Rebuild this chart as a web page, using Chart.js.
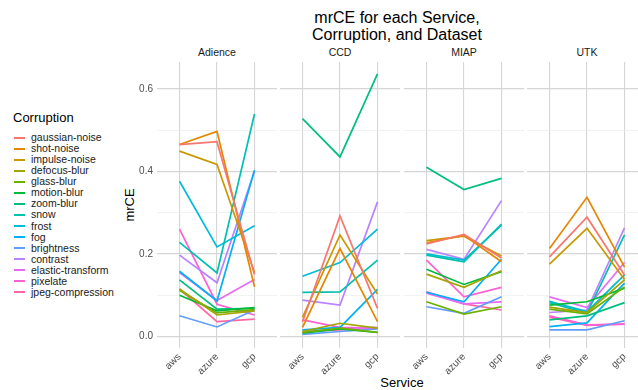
<!DOCTYPE html>
<html>
<head>
<meta charset="utf-8">
<script src="https://cdn.jsdelivr.net/npm/chart.js@4/dist/chart.umd.min.js"></script>
<style>
  html, body { margin: 0; padding: 0; background: #fff; }
  body { width: 638px; height: 390px; overflow: hidden; position: relative;
         font-family: "Liberation Sans", Arial, sans-serif; }
  canvas.panel { position: absolute; top: 0; }
  .txt { position: absolute; white-space: nowrap; }
  #title { left: 247px; width: 300px; top: 10px; text-align: center; font-size: 16px; line-height: 16.5px; color: #000; }
  .strip { top: 46px; width: 120px; text-align: center; font-size: 10.5px; color: #1a1a1a; }
  #xtitle { left: 352px; width: 100px; top: 375px; text-align: center; font-size: 13px; color: #000; }
  #ytitle { left: 129px; top: 205px; font-size: 13px; color: #000; transform: translate(-50%, -50%) rotate(-90deg); }
  #legend { position: absolute; left: 13px; top: 110px; width: 125px; }
  #legend .head { font-size: 13px; line-height: 15px; color: #000; margin-bottom: 7px; white-space: nowrap; }
  #legend .item { height: 11.07px; position: relative; }
  #legend .key { position: absolute; left: 1px; top: 4.5px; width: 11px; height: 2px; }
  #legend .lab { position: absolute; left: 18px; top: -1px; font-size: 10.5px; line-height: 12px; color: #1a1a1a; white-space: nowrap; }
</style>
</head>
<body>
<div id="title" class="txt">mrCE for each Service,<br>Corruption, and Dataset</div>
<div id="xtitle" class="txt">Service</div>
<div id="ytitle" class="txt">mrCE</div>
<div id="legend"></div>

<script>
// Categories and series
const services = ['aws', 'azure', 'gcp'];
const datasets = ['Adience', 'CCD', 'MIAP', 'UTK'];
const corruptions = [
  'gaussian-noise', 'shot-noise', 'impulse-noise', 'defocus-blur', 'glass-blur',
  'motion-blur', 'zoom-blur', 'snow', 'frost', 'fog', 'brightness', 'contrast',
  'elastic-transform', 'pixelate', 'jpeg-compression'
];
const palette = [
  '#F8766D', '#E58700', '#C99800', '#A3A500', '#6BB100', '#00BA38', '#00BF7D',
  '#00C0AF', '#00BCD8', '#00B0F6', '#619CFF', '#B983FF', '#E76BF3', '#FD61D1', '#FF67A4'
];
const yTicks = [0, 0.1, 0.2, 0.3, 0.4, 0.5, 0.6];

// mrCE per corruption (rows) for aws, azure, gcp (columns)
const adience = [
  [0.465, 0.472, 0.150], [0.465, 0.497, 0.120], [0.449, 0.417, 0.155],
  [0.115, 0.052, 0.062], [0.112, 0.057, 0.065], [0.100, 0.062, 0.070],
  [0.137, 0.066, 0.068], [0.228, 0.154, 0.539], [0.376, 0.217, 0.268],
  [0.158, 0.086, 0.403], [0.050, 0.023, 0.064], [0.197, 0.130, 0.401],
  [0.155, 0.087, 0.138], [0.260, 0.078, 0.052], [0.115, 0.036, 0.042]
];
const ccd = [
  [0.035, 0.292, 0.068], [0.022, 0.213, 0.036], [0.046, 0.246, 0.103],
  [0.012, 0.032, 0.020], [0.010, 0.020, 0.010], [0.008, 0.018, 0.010],
  [0.528, 0.435, 0.636], [0.107, 0.108, 0.185], [0.146, 0.179, 0.260],
  [0.016, 0.022, 0.114], [0.005, 0.012, 0.018], [0.088, 0.076, 0.326],
  [0.010, 0.018, 0.022], [0.040, 0.022, 0.020], [0.012, 0.016, 0.020]
];
const miap = [
  [0.224, 0.247, 0.190], [0.227, 0.245, 0.181], [0.232, 0.243, 0.195],
  [0.151, 0.119, 0.159], [0.084, 0.054, 0.072], [0.163, 0.126, 0.157],
  [0.410, 0.356, 0.383], [0.197, 0.181, 0.272], [0.200, 0.185, 0.270],
  [0.107, 0.084, 0.187], [0.072, 0.056, 0.096], [0.211, 0.187, 0.329],
  [0.105, 0.079, 0.084], [0.185, 0.096, 0.119], [0.108, 0.079, 0.064]
];
const utk = [
  [0.193, 0.289, 0.149], [0.213, 0.337, 0.168], [0.175, 0.262, 0.138],
  [0.071, 0.058, 0.137], [0.066, 0.055, 0.120], [0.076, 0.084, 0.117],
  [0.040, 0.050, 0.082], [0.082, 0.056, 0.246], [0.085, 0.060, 0.149],
  [0.024, 0.033, 0.129], [0.016, 0.016, 0.038], [0.058, 0.064, 0.263],
  [0.096, 0.070, 0.179], [0.050, 0.028, 0.030], [0.047, 0.027, 0.030]
];
const panelValues = [adience, ccd, miap, utk];

// Facet geometry (panel left edges in page pixels)
const panelLeft = [157, 280, 404, 527];
const AXIS_W = 40, PANEL_W = 120, PLOT_TOP = 62, XAXIS_H = 42;

const gridMajor = '#d6d6d6', gridMinor = '#ececec';
const isMajor = v => Math.round(v * 10) % 2 === 0;

// Legend
const legend = document.getElementById('legend');
legend.innerHTML = '<div class="head">Corruption</div>' + corruptions.map((c, i) =>
  `<div class="item"><div class="key" style="background:${palette[i]}"></div><div class="lab">${c}</div></div>`
).join('');

datasets.forEach((name, p) => {
  const strip = document.createElement('div');
  strip.className = 'txt strip';
  strip.style.left = panelLeft[p] + 'px';
  strip.textContent = name;
  document.body.appendChild(strip);

  const cv = document.createElement('canvas');
  cv.className = 'panel';
  cv.width = AXIS_W + PANEL_W;
  cv.height = 390;
  cv.style.left = (panelLeft[p] - AXIS_W) + 'px';
  cv.style.width = (AXIS_W + PANEL_W) + 'px';
  cv.style.height = '390px';
  document.body.appendChild(cv);

  const rows = panelValues[p];
  new Chart(cv, {
    type: 'line',
    data: {
      datasets: corruptions.map((c, i) => ({
        label: c,
        data: rows[i].map((v, j) => ({ x: j, y: v })),
        borderColor: palette[i],
        backgroundColor: palette[i],
        borderWidth: 1.7,
        pointRadius: 0,
        tension: 0,
        fill: false
      }))
    },
    options: {
      responsive: false,
      animation: false,
      devicePixelRatio: 1,
      layout: { padding: { top: PLOT_TOP, left: 0, right: 0, bottom: 0 } },
      plugins: { legend: { display: false }, tooltip: { enabled: false }, title: { display: false } },
      scales: {
        x: {
          type: 'linear',
          min: -0.6, max: 2.6,
          afterBuildTicks: s => { s.ticks = services.map((_, j) => ({ value: j })); },
          afterFit: s => { s.height = XAXIS_H; },
          border: { display: false },
          grid: { color: gridMajor, lineWidth: 1.1, drawTicks: false },
          ticks: {
            autoSkip: false, minRotation: 45, maxRotation: 45, padding: 3,
            color: '#4d4d4d', font: { family: 'Liberation Sans', size: 10 },
            callback: v => services[v]
          }
        },
        y: {
          type: 'linear',
          min: -0.028, max: 0.665,
          afterBuildTicks: s => { s.ticks = yTicks.map(v => ({ value: v })); },
          afterFit: s => { s.width = AXIS_W; },
          border: { display: false },
          grid: {
            drawTicks: false,
            color: c => (c.tick && isMajor(c.tick.value)) ? gridMajor : gridMinor,
            lineWidth: c => (c.tick && isMajor(c.tick.value)) ? 1.3 : 0.7
          },
          ticks: {
            display: p === 0, padding: 4,
            color: '#4d4d4d', font: { family: 'Liberation Sans', size: 10 },
            callback: v => isMajor(v) ? v.toFixed(1) : ''
          }
        }
      }
    }
  });
});
</script>
</body>
</html>
